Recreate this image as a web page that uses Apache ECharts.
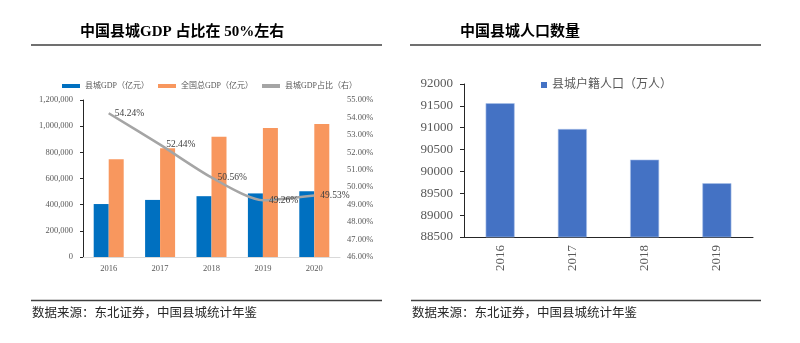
<!DOCTYPE html>
<html>
<head>
<meta charset="utf-8">
<script src="https://cdn.jsdelivr.net/npm/echarts@6/dist/echarts.min.js"></script>
<style>
  html, body { margin: 0; padding: 0; background: #fff; }
  #chart { width: 800px; height: 343px; }
</style>
</head>
<body>
<div id="chart"></div>
<script>
// GDP panel
const gdpYears = ['2016', '2017', '2018', '2019', '2020'];
const countyGdp = [404800, 436300, 464800, 486000, 503200];     // 县城GDP（亿元）
const nationalGdp = [746400, 832000, 919300, 986500, 1016000];  // 全国总GDP（亿元）
const countyShare = [54.24, 52.44, 50.56, 49.26, 49.53];        // 县城GDP占比（%）

// Population panel
const popYears = ['2016', '2017', '2018', '2019'];
const countyPopulation = [91560, 90970, 90270, 89730];          // 县城户籍人口（万人）

const SERIF = '"Liberation Serif", "Noto Sans CJK SC", serif';
const GREY = '#595959';

const chart = echarts.init(document.getElementById('chart'), null, { renderer: 'canvas' });

chart.setOption({
  animation: false,
  backgroundColor: '#fff',
  textStyle: { fontFamily: SERIF },
  legend: [
    {
      left: 57, top: 77,
      itemWidth: 18, itemHeight: 4, itemGap: 9,
      icon: 'rect',
      itemStyle: { borderWidth: 0 },
      textStyle: { fontSize: 8, color: GREY, fontFamily: SERIF },
      data: ['县城GDP（亿元）', '全国总GDP（亿元）', '县城GDP占比（右）']
    },
    {
      left: 536, top: 74,
      itemWidth: 6, itemHeight: 6,
      icon: 'rect',
      itemStyle: { borderWidth: 0 },
      textStyle: { fontSize: 12, color: GREY, fontFamily: SERIF },
      data: ['县城户籍人口（万人）']
    }
  ],
  grid: [
    { left: 83, top: 100, width: 257, height: 157 },
    { left: 464, top: 84, width: 289, height: 153 }
  ],
  xAxis: [
    {
      type: 'category', gridIndex: 0, data: gdpYears,
      axisLine: { lineStyle: { color: '#D9D9D9', width: 1 } },
      axisTick: { inside: true, length: 3, lineStyle: { color: '#D9D9D9' } },
      axisLabel: { fontSize: 8.5, color: GREY, margin: 8, fontFamily: SERIF }
    },
    {
      type: 'category', gridIndex: 1, data: popYears,
      axisLine: { lineStyle: { color: '#262626', width: 1 } },
      axisTick: { length: 4, lineStyle: { color: '#262626' } },
      axisLabel: { fontSize: 13, color: GREY, margin: 8, rotate: 90, fontFamily: SERIF }
    }
  ],
  yAxis: [
    {
      type: 'value', gridIndex: 0, min: 0, max: 1200000, interval: 200000,
      axisLine: { show: true, lineStyle: { color: '#262626', width: 1 } },
      axisTick: { show: true, length: 3, lineStyle: { color: '#262626' } },
      splitLine: { show: false },
      axisLabel: {
        fontSize: 8.5, color: GREY, margin: 10, fontFamily: SERIF,
        formatter: v => v.toLocaleString('en-US')
      }
    },
    {
      type: 'value', gridIndex: 0, position: 'right', min: 46, max: 55, interval: 1,
      axisLine: { show: false },
      axisTick: { show: false },
      splitLine: { show: false },
      axisLabel: {
        fontSize: 8.5, color: GREY, margin: 7, fontFamily: SERIF,
        formatter: v => v.toFixed(2) + '%'
      }
    },
    {
      type: 'value', gridIndex: 1, min: 88500, max: 92000, interval: 500,
      axisLine: { show: true, lineStyle: { color: '#262626', width: 1 } },
      axisTick: { show: true, length: 4, lineStyle: { color: '#262626' } },
      splitLine: { show: false },
      axisLabel: {
        fontSize: 13, color: GREY, margin: 11, fontFamily: SERIF,
        formatter: v => String(v)
      }
    }
  ],
  series: [
    {
      name: '县城GDP（亿元）', type: 'bar', xAxisIndex: 0, yAxisIndex: 0,
      data: countyGdp, barWidth: 15, barGap: '0%',
      itemStyle: { color: '#0070C0' }
    },
    {
      name: '全国总GDP（亿元）', type: 'bar', xAxisIndex: 0, yAxisIndex: 0,
      data: nationalGdp, barWidth: 15, barGap: '0%',
      itemStyle: { color: '#F8975E' }
    },
    {
      name: '县城GDP占比（右）', type: 'line', xAxisIndex: 0, yAxisIndex: 1,
      data: countyShare, smooth: 0.25,
      symbol: 'circle', symbolSize: 0.1, showSymbol: true,
      lineStyle: { color: '#A5A5A5', width: 2.5 },
      itemStyle: { color: '#A5A5A5' },
      label: {
        show: true, position: 'right', distance: 6,
        fontSize: 9.5, color: '#404040', fontFamily: SERIF,
        formatter: p => p.value.toFixed(2) + '%'
      },
      z: 5
    },
    {
      name: '县城户籍人口（万人）', type: 'bar', xAxisIndex: 1, yAxisIndex: 2,
      data: countyPopulation, barWidth: 29,
      itemStyle: { color: '#4472C4', borderColor: '#A9C1EA', borderWidth: 0.6 }
    }
  ],
  graphic: [
    // panel titles
    {
      type: 'text', left: 80, top: 25,
      style: { text: '中国县城GDP 占比在 50%左右', fill: '#000', fontSize: 15, fontWeight: 'bold', fontFamily: SERIF }
    },
    {
      type: 'text', left: 460, top: 25,
      style: { text: '中国县城人口数量', fill: '#000', fontSize: 15, fontWeight: 'bold', fontFamily: SERIF }
    },
    // rules under the titles
    { type: 'line', shape: { x1: 31, y1: 45, x2: 382, y2: 45 }, style: { stroke: '#404040', lineWidth: 1.5 } },
    { type: 'line', shape: { x1: 410, y1: 45, x2: 761, y2: 45 }, style: { stroke: '#404040', lineWidth: 1.5 } },
    // rules above the sources
    { type: 'line', shape: { x1: 31, y1: 300.5, x2: 382, y2: 300.5 }, style: { stroke: '#404040', lineWidth: 1.5 } },
    { type: 'line', shape: { x1: 411, y1: 300.5, x2: 761, y2: 300.5 }, style: { stroke: '#404040', lineWidth: 1.5 } },
    // sources
    {
      type: 'text', left: 32, top: 307,
      style: { text: '数据来源：东北证券，中国县城统计年鉴', fill: '#262626', fontSize: 12.5, fontFamily: SERIF }
    },
    {
      type: 'text', left: 412, top: 307,
      style: { text: '数据来源：东北证券，中国县城统计年鉴', fill: '#262626', fontSize: 12.5, fontFamily: SERIF }
    }
  ]
});
</script>
</body>
</html>
